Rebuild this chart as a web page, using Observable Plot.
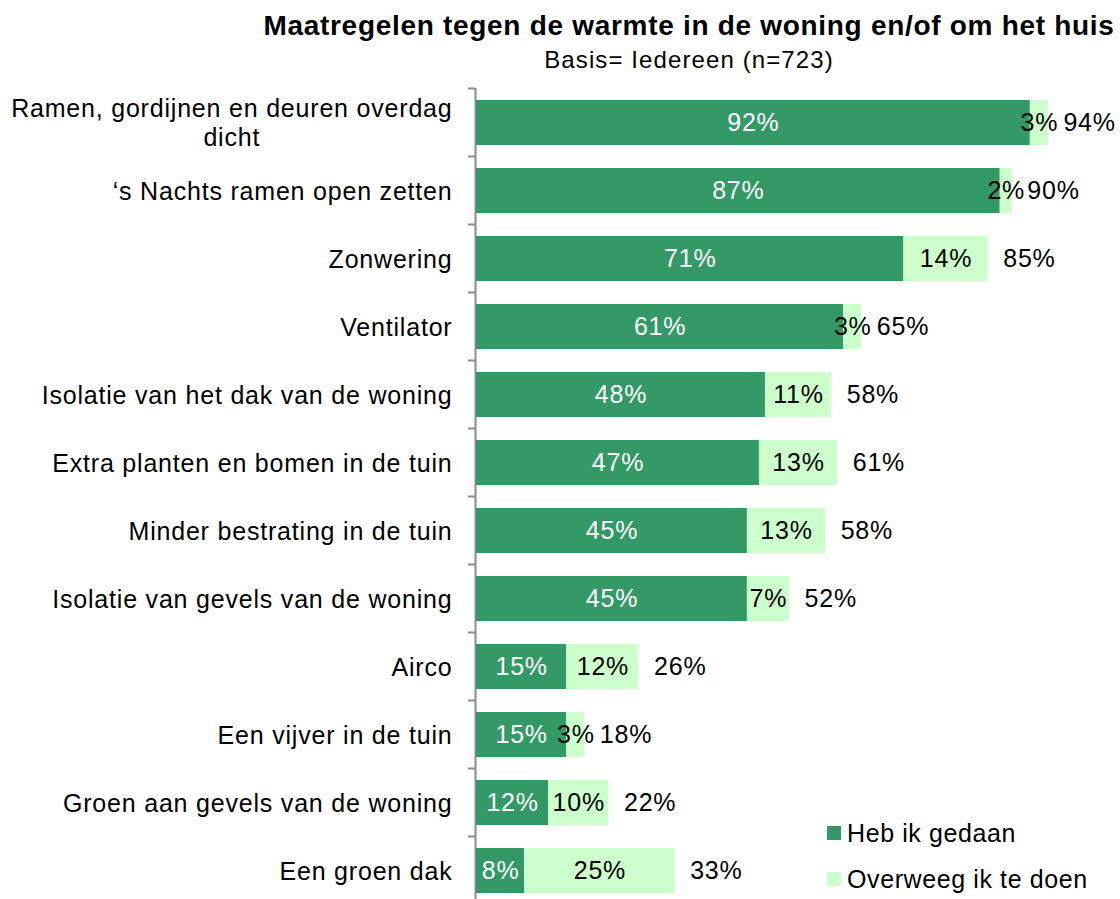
<!DOCTYPE html>
<html><head><meta charset="utf-8">
<script src="https://cdn.jsdelivr.net/npm/d3@7"></script>
<script src="https://cdn.jsdelivr.net/npm/@observablehq/plot@0.6"></script>
<style>
body{margin:0;background:#fff;font-family:"Liberation Sans",Arial,sans-serif;color:#000;}
#wrap{position:relative;width:1120px;height:899px;overflow:hidden;}
#head{height:70px;position:relative;}
.t{position:absolute;left:689px;transform:translateX(-50%);white-space:nowrap;line-height:1;}
#title{top:12px;font-size:28px;font-weight:bold;letter-spacing:0.7px;}
#sub{top:48px;font-size:24px;letter-spacing:1.1px;}
#legend{position:absolute;left:827px;top:810px;font-size:25px;letter-spacing:0.6px;}
.li{display:flex;align-items:center;height:46px;}
.sw{width:14px;height:14px;margin-right:6px;}
#chart text{letter-spacing:0.8px;}
</style></head>
<body>
<div id="wrap">
<div id="head">
<div class="t" id="title">Maatregelen tegen de warmte in de woning en/of om het huis</div>
<div class="t" id="sub">Basis= Iedereen (n=723)</div>
</div>
<div id="chart"></div>
<div id="legend"></div>
</div>
<script>
const categories = [
  "Ramen, gordijnen en deuren overdag\ndicht",
  "\u2018s Nachts ramen open zetten",
  "Zonwering",
  "Ventilator",
  "Isolatie van het dak van de woning",
  "Extra planten en bomen in de tuin",
  "Minder bestrating in de tuin",
  "Isolatie van gevels van de woning",
  "Airco",
  "Een vijver in de tuin",
  "Groen aan gevels van de woning",
  "Een groen dak"
];
const done     = [92, 87, 71, 61, 48, 47, 45, 45, 15, 15, 12, 8];
const consider = [3, 2, 14, 3, 11, 13, 13, 7, 12, 3, 10, 25];
const totals   = [94, 90, 85, 65, 58, 61, 58, 52, 26, 18, 22, 33];
const seriesNames = ["Heb ik gedaan", "Overweeg ik te doen"];
const seriesColors = ["#339966", "#CCFFCC"];

const rows = categories.map((c, i) => ({cat: c, done: done[i], consider: consider[i], total: totals[i]}));
const long = rows.flatMap(r => [
  {cat: r.cat, series: seriesNames[0], value: r.done},
  {cat: r.cat, series: seriesNames[1], value: r.consider}
]);

const chart = Plot.plot({
  width: 1120,
  height: 834,
  marginTop: 18,
  marginBottom: 0,
  marginLeft: 476,
  marginRight: 42,
  style: {fontFamily: '"Liberation Sans", Arial, sans-serif', fontSize: "25px", color: "#000", background: "#fff"},
  x: {domain: [0, 100], axis: null},
  y: {domain: categories, padding: 0, axis: null},
  color: {domain: seriesNames, range: seriesColors},
  marks: [
    Plot.ruleX([0], {stroke: "#8c8c8c", strokeWidth: 2, dx: -1}),
    Plot.axisY({tickSize: 7, dy: -34, dx: -1, stroke: "#8c8c8c", strokeWidth: 2, tickFormat: () => "", label: null}),
    Plot.axisY({tickSize: 0, tickPadding: 24, fontSize: 25, lineHeight: 1.16, fill: "#000", label: null}),
    Plot.barX(long, Plot.stackX({y: "cat", x: "value", fill: "series", order: seriesNames, insetTop: 12, insetBottom: 11})),
    Plot.text(rows, {x: d => d.done / 2, y: "cat", text: d => d.done + "%", fill: "white", fontSize: 25}),
    Plot.text(rows, {x: d => d.done + d.consider / 2, y: "cat", text: d => d.consider + "%", fill: "black", fontSize: 25}),
    Plot.text(rows, {x: d => d.done + d.consider, y: "cat", text: d => d.total + "%", fill: "black", textAnchor: "start", dx: 15, fontSize: 25})
  ]
});
document.getElementById("chart").appendChild(chart);

// centre the wrapped first category label like the original
d3.select(chart).selectAll("text").each(function() {
  const tsp = this.querySelectorAll("tspan");
  if (tsp.length > 1) {
    const w = this.getBBox().width;
    const tr = this.getAttribute("transform") || "";
    this.setAttribute("text-anchor", "middle");
    this.setAttribute("transform", tr + ` translate(${-w / 2},0)`);
  }
});

const legend = document.getElementById("legend");
seriesNames.forEach((s, i) => {
  const d = document.createElement("div");
  d.className = "li";
  d.innerHTML = `<span class="sw" style="background:${seriesColors[i]}"></span><span>${s}</span>`;
  legend.appendChild(d);
});
</script>
</body></html>
